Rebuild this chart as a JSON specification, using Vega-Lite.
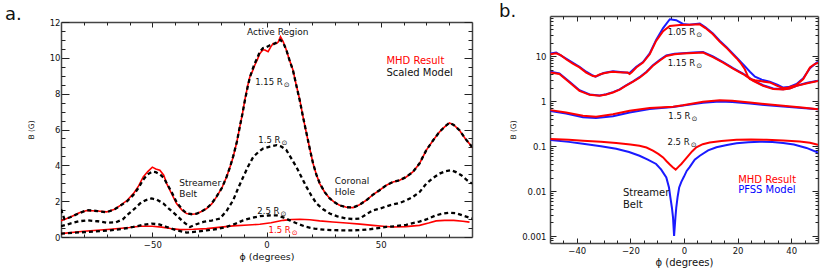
{
"$schema":"https://vega.github.io/schema/vega-lite/v6.json",
"padding":{"left":5,"top":2,"right":0,"bottom":0},
"config":{"font":"DejaVu Sans","view":{"stroke":null},
 "axis":{"grid":false,"domainColor":"#444444","domainWidth":1.5,"tickColor":"#222222","tickWidth":1,"labelFont":"DejaVu Sans","labelFontSize":8.5,"labelColor":"#111111","titleFont":"DejaVu Sans","titleFontWeight":"normal","titleColor":"#111111","labelOverlap":false},
 "text":{"font":"DejaVu Sans"}},
"datasets":{
"a":[
{"s":"MHD","r":"1.15","x":-90,"y":0.9},{"s":"MHD","r":"1.15","x":-86,"y":1.1},{"s":"MHD","r":"1.15","x":-82,"y":1.35},{"s":"MHD","r":"1.15","x":-78.7,"y":1.48},{"s":"MHD","r":"1.15","x":-74,"y":1.45},{"s":"MHD","r":"1.15","x":-70,"y":1.4},{"s":"MHD","r":"1.15","x":-66.5,"y":1.55},{"s":"MHD","r":"1.15","x":-64,"y":1.77},{"s":"MHD","r":"1.15","x":-61,"y":2.05},{"s":"MHD","r":"1.15","x":-58.3,"y":2.42},{"s":"MHD","r":"1.15","x":-56,"y":2.85},{"s":"MHD","r":"1.15","x":-54,"y":3.35},{"s":"MHD","r":"1.15","x":-52,"y":3.65},{"s":"MHD","r":"1.15","x":-50,"y":3.9},{"s":"MHD","r":"1.15","x":-48.5,"y":3.8},{"s":"MHD","r":"1.15","x":-46.7,"y":3.73},{"s":"MHD","r":"1.15","x":-45,"y":3.45},{"s":"MHD","r":"1.15","x":-43.7,"y":2.98},{"s":"MHD","r":"1.15","x":-41.5,"y":2.4},{"s":"MHD","r":"1.15","x":-39.4,"y":1.87},{"s":"MHD","r":"1.15","x":-37,"y":1.5},{"s":"MHD","r":"1.15","x":-35,"y":1.31},{"s":"MHD","r":"1.15","x":-32.5,"y":1.27},{"s":"MHD","r":"1.15","x":-30.6,"y":1.3},{"s":"MHD","r":"1.15","x":-28.5,"y":1.42},{"s":"MHD","r":"1.15","x":-26.2,"y":1.59},{"s":"MHD","r":"1.15","x":-24,"y":1.85},{"s":"MHD","r":"1.15","x":-21.9,"y":2.24},{"s":"MHD","r":"1.15","x":-19.5,"y":2.75},{"s":"MHD","r":"1.15","x":-17.5,"y":3.35},{"s":"MHD","r":"1.15","x":-16,"y":3.9},{"s":"MHD","r":"1.15","x":-14.6,"y":4.47},{"s":"MHD","r":"1.15","x":-13,"y":5.3},{"s":"MHD","r":"1.15","x":-11.7,"y":6.15},{"s":"MHD","r":"1.15","x":-10.5,"y":6.9},{"s":"MHD","r":"1.15","x":-9.5,"y":7.64},{"s":"MHD","r":"1.15","x":-8.3,"y":8.4},{"s":"MHD","r":"1.15","x":-7.3,"y":8.94},{"s":"MHD","r":"1.15","x":-6,"y":9.3},{"s":"MHD","r":"1.15","x":-5.1,"y":9.6},{"s":"MHD","r":"1.15","x":-4,"y":9.9},{"s":"MHD","r":"1.15","x":-2.9,"y":10.25},{"s":"MHD","r":"1.15","x":-1.5,"y":10.45},{"s":"MHD","r":"1.15","x":-0.7,"y":10.44},{"s":"MHD","r":"1.15","x":0.7,"y":10.34},{"s":"MHD","r":"1.15","x":1.8,"y":10.6},{"s":"MHD","r":"1.15","x":2.9,"y":10.8},{"s":"MHD","r":"1.15","x":4.4,"y":10.8},{"s":"MHD","r":"1.15","x":5.2,"y":10.9},{"s":"MHD","r":"1.15","x":6.1,"y":11.18},{"s":"MHD","r":"1.15","x":7.3,"y":10.9},{"s":"MHD","r":"1.15","x":8.7,"y":10.44},{"s":"MHD","r":"1.15","x":10,"y":9.9},{"s":"MHD","r":"1.15","x":11.6,"y":9.32},{"s":"MHD","r":"1.15","x":13,"y":8.5},{"s":"MHD","r":"1.15","x":14.6,"y":7.64},{"s":"MHD","r":"1.15","x":16,"y":6.7},{"s":"MHD","r":"1.15","x":17.5,"y":5.78},{"s":"MHD","r":"1.15","x":19,"y":4.9},{"s":"MHD","r":"1.15","x":20.4,"y":4.1},{"s":"MHD","r":"1.15","x":21.8,"y":3.5},{"s":"MHD","r":"1.15","x":23.3,"y":2.98},{"s":"MHD","r":"1.15","x":25.5,"y":2.5},{"s":"MHD","r":"1.15","x":27.7,"y":2.15},{"s":"MHD","r":"1.15","x":30,"y":1.92},{"s":"MHD","r":"1.15","x":32,"y":1.77},{"s":"MHD","r":"1.15","x":35,"y":1.66},{"s":"MHD","r":"1.15","x":37.9,"y":1.64},{"s":"MHD","r":"1.15","x":40.5,"y":1.78},{"s":"MHD","r":"1.15","x":43.7,"y":2.05},{"s":"MHD","r":"1.15","x":46.5,"y":2.35},{"s":"MHD","r":"1.15","x":49.5,"y":2.61},{"s":"MHD","r":"1.15","x":52.5,"y":2.89},{"s":"MHD","r":"1.15","x":55.4,"y":3.07},{"s":"MHD","r":"1.15","x":58.3,"y":3.17},{"s":"MHD","r":"1.15","x":61.2,"y":3.35},{"s":"MHD","r":"1.15","x":64.1,"y":3.63},{"s":"MHD","r":"1.15","x":67,"y":4.1},{"s":"MHD","r":"1.15","x":70,"y":4.85},{"s":"MHD","r":"1.15","x":73,"y":5.4},{"s":"MHD","r":"1.15","x":75.8,"y":5.87},{"s":"MHD","r":"1.15","x":78,"y":6.15},{"s":"MHD","r":"1.15","x":80.1,"y":6.37},{"s":"MHD","r":"1.15","x":82,"y":6.25},{"s":"MHD","r":"1.15","x":84.5,"y":5.96},{"s":"MHD","r":"1.15","x":87,"y":5.5},{"s":"MHD","r":"1.15","x":90,"y":5.03},
{"s":"Model","r":"1.15","x":-90,"y":1.55},{"s":"Model","r":"1.15","x":-88.5,"y":1.0},{"s":"Model","r":"1.15","x":-86,"y":1.1},{"s":"Model","r":"1.15","x":-82,"y":1.33},{"s":"Model","r":"1.15","x":-78.7,"y":1.5},{"s":"Model","r":"1.15","x":-74,"y":1.45},{"s":"Model","r":"1.15","x":-70,"y":1.38},{"s":"Model","r":"1.15","x":-66.5,"y":1.55},{"s":"Model","r":"1.15","x":-64,"y":1.75},{"s":"Model","r":"1.15","x":-61,"y":2.0},{"s":"Model","r":"1.15","x":-58.3,"y":2.35},{"s":"Model","r":"1.15","x":-56,"y":2.75},{"s":"Model","r":"1.15","x":-54,"y":3.2},{"s":"Model","r":"1.15","x":-52,"y":3.5},{"s":"Model","r":"1.15","x":-50,"y":3.65},{"s":"Model","r":"1.15","x":-48.5,"y":3.62},{"s":"Model","r":"1.15","x":-46.7,"y":3.5},{"s":"Model","r":"1.15","x":-45,"y":3.3},{"s":"Model","r":"1.15","x":-43.7,"y":3.0},{"s":"Model","r":"1.15","x":-41.5,"y":2.5},{"s":"Model","r":"1.15","x":-39.4,"y":1.95},{"s":"Model","r":"1.15","x":-37,"y":1.55},{"s":"Model","r":"1.15","x":-35,"y":1.32},{"s":"Model","r":"1.15","x":-32.5,"y":1.27},{"s":"Model","r":"1.15","x":-30.6,"y":1.3},{"s":"Model","r":"1.15","x":-28.5,"y":1.42},{"s":"Model","r":"1.15","x":-26.2,"y":1.6},{"s":"Model","r":"1.15","x":-24,"y":1.87},{"s":"Model","r":"1.15","x":-21.9,"y":2.25},{"s":"Model","r":"1.15","x":-19.5,"y":2.75},{"s":"Model","r":"1.15","x":-17.5,"y":3.35},{"s":"Model","r":"1.15","x":-16,"y":3.9},{"s":"Model","r":"1.15","x":-14.6,"y":4.5},{"s":"Model","r":"1.15","x":-13,"y":5.3},{"s":"Model","r":"1.15","x":-11.7,"y":6.15},{"s":"Model","r":"1.15","x":-10.5,"y":6.9},{"s":"Model","r":"1.15","x":-9.5,"y":7.6},{"s":"Model","r":"1.15","x":-8.3,"y":8.35},{"s":"Model","r":"1.15","x":-7.3,"y":8.9},{"s":"Model","r":"1.15","x":-6,"y":9.4},{"s":"Model","r":"1.15","x":-5.1,"y":9.7},{"s":"Model","r":"1.15","x":-4,"y":10.0},{"s":"Model","r":"1.15","x":-2.9,"y":10.35},{"s":"Model","r":"1.15","x":-1.5,"y":10.55},{"s":"Model","r":"1.15","x":0,"y":10.6},{"s":"Model","r":"1.15","x":1.5,"y":10.7},{"s":"Model","r":"1.15","x":2.9,"y":10.75},{"s":"Model","r":"1.15","x":4.4,"y":10.85},{"s":"Model","r":"1.15","x":6.1,"y":11.0},{"s":"Model","r":"1.15","x":7.3,"y":10.85},{"s":"Model","r":"1.15","x":8.7,"y":10.44},{"s":"Model","r":"1.15","x":10,"y":9.9},{"s":"Model","r":"1.15","x":11.6,"y":9.3},{"s":"Model","r":"1.15","x":13,"y":8.5},{"s":"Model","r":"1.15","x":14.6,"y":7.6},{"s":"Model","r":"1.15","x":16,"y":6.7},{"s":"Model","r":"1.15","x":17.5,"y":5.8},{"s":"Model","r":"1.15","x":19,"y":4.9},{"s":"Model","r":"1.15","x":20.4,"y":4.1},{"s":"Model","r":"1.15","x":21.8,"y":3.5},{"s":"Model","r":"1.15","x":23.3,"y":3.0},{"s":"Model","r":"1.15","x":25.5,"y":2.5},{"s":"Model","r":"1.15","x":27.7,"y":2.15},{"s":"Model","r":"1.15","x":30,"y":1.92},{"s":"Model","r":"1.15","x":32,"y":1.77},{"s":"Model","r":"1.15","x":35,"y":1.66},{"s":"Model","r":"1.15","x":37.9,"y":1.65},{"s":"Model","r":"1.15","x":40.5,"y":1.78},{"s":"Model","r":"1.15","x":43.7,"y":2.05},{"s":"Model","r":"1.15","x":46.5,"y":2.35},{"s":"Model","r":"1.15","x":49.5,"y":2.61},{"s":"Model","r":"1.15","x":52.5,"y":2.89},{"s":"Model","r":"1.15","x":55.4,"y":3.07},{"s":"Model","r":"1.15","x":58.3,"y":3.17},{"s":"Model","r":"1.15","x":61.2,"y":3.35},{"s":"Model","r":"1.15","x":64.1,"y":3.63},{"s":"Model","r":"1.15","x":67,"y":4.1},{"s":"Model","r":"1.15","x":70,"y":4.85},{"s":"Model","r":"1.15","x":73,"y":5.4},{"s":"Model","r":"1.15","x":75.8,"y":5.87},{"s":"Model","r":"1.15","x":78,"y":6.15},{"s":"Model","r":"1.15","x":80.1,"y":6.37},{"s":"Model","r":"1.15","x":82,"y":6.25},{"s":"Model","r":"1.15","x":84.5,"y":5.96},{"s":"Model","r":"1.15","x":87,"y":5.5},{"s":"Model","r":"1.15","x":90,"y":5.03},
{"s":"Model","r":"1.5","x":-90,"y":0.6},{"s":"Model","r":"1.5","x":-86,"y":0.75},{"s":"Model","r":"1.5","x":-82,"y":0.88},{"s":"Model","r":"1.5","x":-78.7,"y":0.93},{"s":"Model","r":"1.5","x":-74,"y":0.88},{"s":"Model","r":"1.5","x":-70,"y":0.8},{"s":"Model","r":"1.5","x":-66,"y":0.82},{"s":"Model","r":"1.5","x":-63,"y":0.98},{"s":"Model","r":"1.5","x":-61.2,"y":1.21},{"s":"Model","r":"1.5","x":-58,"y":1.55},{"s":"Model","r":"1.5","x":-55.4,"y":1.87},{"s":"Model","r":"1.5","x":-53,"y":2.05},{"s":"Model","r":"1.5","x":-50.3,"y":2.15},{"s":"Model","r":"1.5","x":-48,"y":2.08},{"s":"Model","r":"1.5","x":-45.2,"y":1.87},{"s":"Model","r":"1.5","x":-42.5,"y":1.55},{"s":"Model","r":"1.5","x":-39.4,"y":1.21},{"s":"Model","r":"1.5","x":-36.5,"y":0.85},{"s":"Model","r":"1.5","x":-33.5,"y":0.56},{"s":"Model","r":"1.5","x":-31,"y":0.7},{"s":"Model","r":"1.5","x":-27.7,"y":0.84},{"s":"Model","r":"1.5","x":-24,"y":0.92},{"s":"Model","r":"1.5","x":-20.4,"y":1.03},{"s":"Model","r":"1.5","x":-17.5,"y":1.45},{"s":"Model","r":"1.5","x":-14.6,"y":2.05},{"s":"Model","r":"1.5","x":-12.5,"y":2.7},{"s":"Model","r":"1.5","x":-10.2,"y":3.35},{"s":"Model","r":"1.5","x":-8,"y":3.95},{"s":"Model","r":"1.5","x":-5.8,"y":4.47},{"s":"Model","r":"1.5","x":-3.5,"y":4.75},{"s":"Model","r":"1.5","x":-1.5,"y":4.94},{"s":"Model","r":"1.5","x":1.5,"y":5.05},{"s":"Model","r":"1.5","x":4.4,"y":5.13},{"s":"Model","r":"1.5","x":6.5,"y":5.05},{"s":"Model","r":"1.5","x":8.7,"y":4.85},{"s":"Model","r":"1.5","x":10.8,"y":4.4},{"s":"Model","r":"1.5","x":13.1,"y":3.91},{"s":"Model","r":"1.5","x":15.3,"y":3.35},{"s":"Model","r":"1.5","x":17.5,"y":2.8},{"s":"Model","r":"1.5","x":19.7,"y":2.3},{"s":"Model","r":"1.5","x":21.9,"y":1.87},{"s":"Model","r":"1.5","x":24.8,"y":1.55},{"s":"Model","r":"1.5","x":27.7,"y":1.31},{"s":"Model","r":"1.5","x":31,"y":1.15},{"s":"Model","r":"1.5","x":35,"y":1.03},{"s":"Model","r":"1.5","x":38,"y":1.0},{"s":"Model","r":"1.5","x":40.8,"y":1.03},{"s":"Model","r":"1.5","x":43.5,"y":1.25},{"s":"Model","r":"1.5","x":46.6,"y":1.49},{"s":"Model","r":"1.5","x":50,"y":1.6},{"s":"Model","r":"1.5","x":53.9,"y":1.77},{"s":"Model","r":"1.5","x":58.3,"y":1.9},{"s":"Model","r":"1.5","x":61.2,"y":2.05},{"s":"Model","r":"1.5","x":64.1,"y":2.24},{"s":"Model","r":"1.5","x":67,"y":2.5},{"s":"Model","r":"1.5","x":70,"y":2.98},{"s":"Model","r":"1.5","x":73,"y":3.3},{"s":"Model","r":"1.5","x":75.8,"y":3.54},{"s":"Model","r":"1.5","x":78.5,"y":3.68},{"s":"Model","r":"1.5","x":80.9,"y":3.73},{"s":"Model","r":"1.5","x":83,"y":3.62},{"s":"Model","r":"1.5","x":85.3,"y":3.45},{"s":"Model","r":"1.5","x":87.5,"y":3.2},{"s":"Model","r":"1.5","x":90,"y":2.98},
{"s":"Model","r":"2.5","x":-90,"y":0.19},{"s":"Model","r":"2.5","x":-84,"y":0.24},{"s":"Model","r":"2.5","x":-78.7,"y":0.28},{"s":"Model","r":"2.5","x":-73,"y":0.33},{"s":"Model","r":"2.5","x":-68.4,"y":0.37},{"s":"Model","r":"2.5","x":-63,"y":0.45},{"s":"Model","r":"2.5","x":-58.3,"y":0.56},{"s":"Model","r":"2.5","x":-54,"y":0.68},{"s":"Model","r":"2.5","x":-50.3,"y":0.75},{"s":"Model","r":"2.5","x":-47,"y":0.7},{"s":"Model","r":"2.5","x":-43.7,"y":0.56},{"s":"Model","r":"2.5","x":-39.5,"y":0.38},{"s":"Model","r":"2.5","x":-35,"y":0.25},{"s":"Model","r":"2.5","x":-30.5,"y":0.3},{"s":"Model","r":"2.5","x":-26.2,"y":0.37},{"s":"Model","r":"2.5","x":-21.5,"y":0.45},{"s":"Model","r":"2.5","x":-17.5,"y":0.56},{"s":"Model","r":"2.5","x":-13.5,"y":0.75},{"s":"Model","r":"2.5","x":-10.2,"y":0.93},{"s":"Model","r":"2.5","x":-6.5,"y":1.07},{"s":"Model","r":"2.5","x":-2.9,"y":1.16},{"s":"Model","r":"2.5","x":0.7,"y":1.2},{"s":"Model","r":"2.5","x":4.4,"y":1.21},{"s":"Model","r":"2.5","x":7.3,"y":1.1},{"s":"Model","r":"2.5","x":10.2,"y":0.93},{"s":"Model","r":"2.5","x":13.8,"y":0.73},{"s":"Model","r":"2.5","x":17.5,"y":0.56},{"s":"Model","r":"2.5","x":21,"y":0.47},{"s":"Model","r":"2.5","x":24.8,"y":0.41},{"s":"Model","r":"2.5","x":30,"y":0.38},{"s":"Model","r":"2.5","x":35,"y":0.37},{"s":"Model","r":"2.5","x":40,"y":0.38},{"s":"Model","r":"2.5","x":43.7,"y":0.41},{"s":"Model","r":"2.5","x":48,"y":0.48},{"s":"Model","r":"2.5","x":52.5,"y":0.56},{"s":"Model","r":"2.5","x":56,"y":0.6},{"s":"Model","r":"2.5","x":61.2,"y":0.68},{"s":"Model","r":"2.5","x":64.1,"y":0.78},{"s":"Model","r":"2.5","x":67,"y":0.86},{"s":"Model","r":"2.5","x":70,"y":0.98},{"s":"Model","r":"2.5","x":74,"y":1.2},{"s":"Model","r":"2.5","x":77,"y":1.3},{"s":"Model","r":"2.5","x":80.1,"y":1.36},{"s":"Model","r":"2.5","x":83,"y":1.33},{"s":"Model","r":"2.5","x":86,"y":1.2},{"s":"Model","r":"2.5","x":90,"y":1.03},
{"s":"MHD","r":"1.5","x":-90,"y":0.19},{"s":"MHD","r":"1.5","x":-80,"y":0.32},{"s":"MHD","r":"1.5","x":-68.4,"y":0.43},{"s":"MHD","r":"1.5","x":-60,"y":0.53},{"s":"MHD","r":"1.5","x":-55.4,"y":0.6},{"s":"MHD","r":"1.5","x":-50,"y":0.6},{"s":"MHD","r":"1.5","x":-46,"y":0.55},{"s":"MHD","r":"1.5","x":-42,"y":0.47},{"s":"MHD","r":"1.5","x":-37.9,"y":0.41},{"s":"MHD","r":"1.5","x":-32,"y":0.43},{"s":"MHD","r":"1.5","x":-26.2,"y":0.47},{"s":"MHD","r":"1.5","x":-20,"y":0.55},{"s":"MHD","r":"1.5","x":-14.6,"y":0.62},{"s":"MHD","r":"1.5","x":-8,"y":0.67},{"s":"MHD","r":"1.5","x":-2.9,"y":0.71},{"s":"MHD","r":"1.5","x":2,"y":0.8},{"s":"MHD","r":"1.5","x":7.3,"y":0.93},{"s":"MHD","r":"1.5","x":11,"y":0.98},{"s":"MHD","r":"1.5","x":14.6,"y":0.99},{"s":"MHD","r":"1.5","x":19,"y":0.96},{"s":"MHD","r":"1.5","x":23.3,"y":0.9},{"s":"MHD","r":"1.5","x":29,"y":0.84},{"s":"MHD","r":"1.5","x":35,"y":0.78},{"s":"MHD","r":"1.5","x":41,"y":0.72},{"s":"MHD","r":"1.5","x":46.6,"y":0.65},{"s":"MHD","r":"1.5","x":51,"y":0.6},{"s":"MHD","r":"1.5","x":55.4,"y":0.56},{"s":"MHD","r":"1.5","x":61,"y":0.58},{"s":"MHD","r":"1.5","x":67,"y":0.65},{"s":"MHD","r":"1.5","x":71,"y":0.78},{"s":"MHD","r":"1.5","x":74.3,"y":0.9},{"s":"MHD","r":"1.5","x":78,"y":0.93},{"s":"MHD","r":"1.5","x":82,"y":0.93},{"s":"MHD","r":"1.5","x":86,"y":0.88},{"s":"MHD","r":"1.5","x":88.9,"y":0.83}
],
"b":[
{"s":"PFSS","r":"1.05","x":-49.8,"y":11.5},{"s":"PFSS","r":"1.05","x":-47.7,"y":12},{"s":"PFSS","r":"1.05","x":-44,"y":8.8},{"s":"PFSS","r":"1.05","x":-39,"y":5.8},{"s":"PFSS","r":"1.05","x":-36.5,"y":4.5},{"s":"PFSS","r":"1.05","x":-34,"y":3.7},{"s":"PFSS","r":"1.05","x":-33,"y":3.5},{"s":"PFSS","r":"1.05","x":-30,"y":4.2},{"s":"PFSS","r":"1.05","x":-26.5,"y":4.6},{"s":"PFSS","r":"1.05","x":-22.8,"y":4.4},{"s":"PFSS","r":"1.05","x":-20.3,"y":4.2},{"s":"PFSS","r":"1.05","x":-17.8,"y":5.8},{"s":"PFSS","r":"1.05","x":-15.3,"y":7.4},{"s":"PFSS","r":"1.05","x":-12.8,"y":11.5},{"s":"PFSS","r":"1.05","x":-10.4,"y":23},{"s":"PFSS","r":"1.05","x":-7.8,"y":42},{"s":"PFSS","r":"1.05","x":-5.3,"y":66},{"s":"PFSS","r":"1.05","x":-2.9,"y":63},{"s":"PFSS","r":"1.05","x":-0.4,"y":52},{"s":"PFSS","r":"1.05","x":2,"y":50},{"s":"PFSS","r":"1.05","x":5.9,"y":53},{"s":"PFSS","r":"1.05","x":8,"y":44},{"s":"PFSS","r":"1.05","x":10.8,"y":32},{"s":"PFSS","r":"1.05","x":13.3,"y":22},{"s":"PFSS","r":"1.05","x":15.8,"y":16},{"s":"PFSS","r":"1.05","x":19.6,"y":9.4},{"s":"PFSS","r":"1.05","x":22.7,"y":6.0},{"s":"PFSS","r":"1.05","x":24.6,"y":4.5},{"s":"PFSS","r":"1.05","x":26.5,"y":3.5},{"s":"PFSS","r":"1.05","x":29,"y":3.0},{"s":"PFSS","r":"1.05","x":32,"y":2.7},{"s":"PFSS","r":"1.05","x":35,"y":2.3},{"s":"PFSS","r":"1.05","x":37,"y":2.0},{"s":"PFSS","r":"1.05","x":39,"y":2.05},{"s":"PFSS","r":"1.05","x":42,"y":2.4},{"s":"PFSS","r":"1.05","x":44.5,"y":3.2},{"s":"PFSS","r":"1.05","x":47,"y":5.4},{"s":"PFSS","r":"1.05","x":50,"y":7.6},
{"s":"PFSS","r":"1.15","x":-49.8,"y":4.5},{"s":"PFSS","r":"1.15","x":-46.5,"y":4.1},{"s":"PFSS","r":"1.15","x":-42.7,"y":2.7},{"s":"PFSS","r":"1.15","x":-39,"y":1.75},{"s":"PFSS","r":"1.15","x":-35.2,"y":1.4},{"s":"PFSS","r":"1.15","x":-31.5,"y":1.33},{"s":"PFSS","r":"1.15","x":-29,"y":1.42},{"s":"PFSS","r":"1.15","x":-26.5,"y":1.58},{"s":"PFSS","r":"1.15","x":-24,"y":1.83},{"s":"PFSS","r":"1.15","x":-21.6,"y":2.25},{"s":"PFSS","r":"1.15","x":-19,"y":2.75},{"s":"PFSS","r":"1.15","x":-16.6,"y":3.4},{"s":"PFSS","r":"1.15","x":-14,"y":4.5},{"s":"PFSS","r":"1.15","x":-11.6,"y":6.3},{"s":"PFSS","r":"1.15","x":-9,"y":8.3},{"s":"PFSS","r":"1.15","x":-6.6,"y":10.4},{"s":"PFSS","r":"1.15","x":-3.5,"y":11.3},{"s":"PFSS","r":"1.15","x":-0.4,"y":11.6},{"s":"PFSS","r":"1.15","x":3.5,"y":12.0},{"s":"PFSS","r":"1.15","x":7.1,"y":12.4},{"s":"PFSS","r":"1.15","x":10.8,"y":9.8},{"s":"PFSS","r":"1.15","x":14.6,"y":7.4},{"s":"PFSS","r":"1.15","x":18.3,"y":5.4},{"s":"PFSS","r":"1.15","x":22,"y":4.1},{"s":"PFSS","r":"1.15","x":25.8,"y":2.9},{"s":"PFSS","r":"1.15","x":29.5,"y":2.25},{"s":"PFSS","r":"1.15","x":33.3,"y":1.9},{"s":"PFSS","r":"1.15","x":37,"y":1.83},{"s":"PFSS","r":"1.15","x":39.5,"y":1.92},{"s":"PFSS","r":"1.15","x":42,"y":2.2},{"s":"PFSS","r":"1.15","x":46,"y":2.55},{"s":"PFSS","r":"1.15","x":50,"y":2.85},
{"s":"PFSS","r":"1.5","x":-49.8,"y":0.6},{"s":"PFSS","r":"1.5","x":-44,"y":0.53},{"s":"PFSS","r":"1.5","x":-37.7,"y":0.44},{"s":"PFSS","r":"1.5","x":-32.8,"y":0.42},{"s":"PFSS","r":"1.5","x":-26.5,"y":0.46},{"s":"PFSS","r":"1.5","x":-20.3,"y":0.56},{"s":"PFSS","r":"1.5","x":-12.8,"y":0.67},{"s":"PFSS","r":"1.5","x":-4.1,"y":0.74},{"s":"PFSS","r":"1.5","x":-0.4,"y":0.8},{"s":"PFSS","r":"1.5","x":7.1,"y":0.92},{"s":"PFSS","r":"1.5","x":13.3,"y":0.98},{"s":"PFSS","r":"1.5","x":18,"y":0.96},{"s":"PFSS","r":"1.5","x":24.6,"y":0.88},{"s":"PFSS","r":"1.5","x":30,"y":0.82},{"s":"PFSS","r":"1.5","x":37,"y":0.76},{"s":"PFSS","r":"1.5","x":44,"y":0.7},{"s":"PFSS","r":"1.5","x":50,"y":0.66},
{"s":"PFSS","r":"2.5","x":-49.8,"y":0.136},{"s":"PFSS","r":"2.5","x":-43,"y":0.124},{"s":"PFSS","r":"2.5","x":-37.7,"y":0.112},{"s":"PFSS","r":"2.5","x":-31,"y":0.099},{"s":"PFSS","r":"2.5","x":-25.3,"y":0.087},{"s":"PFSS","r":"2.5","x":-20.5,"y":0.074},{"s":"PFSS","r":"2.5","x":-16.6,"y":0.061},{"s":"PFSS","r":"2.5","x":-13.5,"y":0.05},{"s":"PFSS","r":"2.5","x":-10.4,"y":0.04},{"s":"PFSS","r":"2.5","x":-8.5,"y":0.03},{"s":"PFSS","r":"2.5","x":-6.6,"y":0.02},{"s":"PFSS","r":"2.5","x":-5.6,"y":0.012},{"s":"PFSS","r":"2.5","x":-5.1,"y":0.0073},{"s":"PFSS","r":"2.5","x":-4.5,"y":0.0042},{"s":"PFSS","r":"2.5","x":-4.1,"y":0.0026},{"s":"PFSS","r":"2.5","x":-3.7,"y":0.001},{"s":"PFSS","r":"2.5","x":-3.2,"y":0.0026},{"s":"PFSS","r":"2.5","x":-2.9,"y":0.0042},{"s":"PFSS","r":"2.5","x":-2.4,"y":0.0073},{"s":"PFSS","r":"2.5","x":-1.8,"y":0.012},{"s":"PFSS","r":"2.5","x":-1,"y":0.016},{"s":"PFSS","r":"2.5","x":0,"y":0.021},{"s":"PFSS","r":"2.5","x":1,"y":0.028},{"s":"PFSS","r":"2.5","x":2.1,"y":0.034},{"s":"PFSS","r":"2.5","x":4,"y":0.05},{"s":"PFSS","r":"2.5","x":5.9,"y":0.061},{"s":"PFSS","r":"2.5","x":9,"y":0.08},{"s":"PFSS","r":"2.5","x":12.1,"y":0.094},{"s":"PFSS","r":"2.5","x":16,"y":0.106},{"s":"PFSS","r":"2.5","x":19.6,"y":0.115},{"s":"PFSS","r":"2.5","x":24,"y":0.121},{"s":"PFSS","r":"2.5","x":28.3,"y":0.125},{"s":"PFSS","r":"2.5","x":33,"y":0.123},{"s":"PFSS","r":"2.5","x":37,"y":0.117},{"s":"PFSS","r":"2.5","x":41,"y":0.108},{"s":"PFSS","r":"2.5","x":45.7,"y":0.091},{"s":"PFSS","r":"2.5","x":50,"y":0.072},
{"s":"MHD","r":"1.05","x":-49.8,"y":11},{"s":"MHD","r":"1.05","x":-47.7,"y":11.6},{"s":"MHD","r":"1.05","x":-46,"y":10.5},{"s":"MHD","r":"1.05","x":-44,"y":8.5},{"s":"MHD","r":"1.05","x":-41.5,"y":6.8},{"s":"MHD","r":"1.05","x":-39,"y":5.6},{"s":"MHD","r":"1.05","x":-36.5,"y":4.3},{"s":"MHD","r":"1.05","x":-34,"y":3.6},{"s":"MHD","r":"1.05","x":-33,"y":3.55},{"s":"MHD","r":"1.05","x":-31.5,"y":3.9},{"s":"MHD","r":"1.05","x":-30.3,"y":4.1},{"s":"MHD","r":"1.05","x":-28,"y":4.4},{"s":"MHD","r":"1.05","x":-26.5,"y":4.5},{"s":"MHD","r":"1.05","x":-24.5,"y":4.4},{"s":"MHD","r":"1.05","x":-22.8,"y":4.3},{"s":"MHD","r":"1.05","x":-21,"y":4.3},{"s":"MHD","r":"1.05","x":-20.3,"y":4.0},{"s":"MHD","r":"1.05","x":-19.5,"y":4.4},{"s":"MHD","r":"1.05","x":-17.8,"y":5.6},{"s":"MHD","r":"1.05","x":-15.3,"y":7.2},{"s":"MHD","r":"1.05","x":-12.8,"y":11},{"s":"MHD","r":"1.05","x":-10.4,"y":21.8},{"s":"MHD","r":"1.05","x":-7.8,"y":36},{"s":"MHD","r":"1.05","x":-5.3,"y":47},{"s":"MHD","r":"1.05","x":-1.6,"y":49},{"s":"MHD","r":"1.05","x":2,"y":50},{"s":"MHD","r":"1.05","x":5.9,"y":51},{"s":"MHD","r":"1.05","x":8,"y":42},{"s":"MHD","r":"1.05","x":10.8,"y":30.7},{"s":"MHD","r":"1.05","x":13.3,"y":21},{"s":"MHD","r":"1.05","x":15.8,"y":15.4},{"s":"MHD","r":"1.05","x":17.8,"y":11.5},{"s":"MHD","r":"1.05","x":19.6,"y":9.0},{"s":"MHD","r":"1.05","x":21.3,"y":6.8},{"s":"MHD","r":"1.05","x":22.7,"y":5.1},{"s":"MHD","r":"1.05","x":23.8,"y":3.6},{"s":"MHD","r":"1.05","x":24.6,"y":3.1},{"s":"MHD","r":"1.05","x":26.5,"y":2.9},{"s":"MHD","r":"1.05","x":29,"y":2.75},{"s":"MHD","r":"1.05","x":32,"y":2.6},{"s":"MHD","r":"1.05","x":35,"y":2.15},{"s":"MHD","r":"1.05","x":37,"y":1.94},{"s":"MHD","r":"1.05","x":39,"y":2.0},{"s":"MHD","r":"1.05","x":42,"y":2.3},{"s":"MHD","r":"1.05","x":44.5,"y":3.1},{"s":"MHD","r":"1.05","x":47,"y":5.6},{"s":"MHD","r":"1.05","x":48.5,"y":6.5},{"s":"MHD","r":"1.05","x":50,"y":7.2},
{"s":"MHD","r":"1.15","x":-49.8,"y":4.3},{"s":"MHD","r":"1.15","x":-46.5,"y":4.0},{"s":"MHD","r":"1.15","x":-42.7,"y":2.6},{"s":"MHD","r":"1.15","x":-39,"y":1.69},{"s":"MHD","r":"1.15","x":-35.2,"y":1.38},{"s":"MHD","r":"1.15","x":-31.5,"y":1.31},{"s":"MHD","r":"1.15","x":-29,"y":1.4},{"s":"MHD","r":"1.15","x":-26.5,"y":1.55},{"s":"MHD","r":"1.15","x":-24,"y":1.8},{"s":"MHD","r":"1.15","x":-21.6,"y":2.2},{"s":"MHD","r":"1.15","x":-19,"y":2.7},{"s":"MHD","r":"1.15","x":-16.6,"y":3.3},{"s":"MHD","r":"1.15","x":-14,"y":4.4},{"s":"MHD","r":"1.15","x":-11.6,"y":6.1},{"s":"MHD","r":"1.15","x":-9,"y":8.0},{"s":"MHD","r":"1.15","x":-6.6,"y":10.1},{"s":"MHD","r":"1.15","x":-3.5,"y":11},{"s":"MHD","r":"1.15","x":-0.4,"y":11.4},{"s":"MHD","r":"1.15","x":3.5,"y":11.7},{"s":"MHD","r":"1.15","x":7.1,"y":12},{"s":"MHD","r":"1.15","x":10.8,"y":9.5},{"s":"MHD","r":"1.15","x":14.6,"y":7.2},{"s":"MHD","r":"1.15","x":18.3,"y":5.3},{"s":"MHD","r":"1.15","x":22,"y":4.0},{"s":"MHD","r":"1.15","x":25.8,"y":2.8},{"s":"MHD","r":"1.15","x":29.5,"y":2.2},{"s":"MHD","r":"1.15","x":33.3,"y":1.85},{"s":"MHD","r":"1.15","x":37,"y":1.81},{"s":"MHD","r":"1.15","x":39.5,"y":1.9},{"s":"MHD","r":"1.15","x":42,"y":2.18},{"s":"MHD","r":"1.15","x":46,"y":2.5},{"s":"MHD","r":"1.15","x":50,"y":2.8},
{"s":"MHD","r":"1.5","x":-49.8,"y":0.63},{"s":"MHD","r":"1.5","x":-44,"y":0.56},{"s":"MHD","r":"1.5","x":-37.7,"y":0.47},{"s":"MHD","r":"1.5","x":-32.8,"y":0.45},{"s":"MHD","r":"1.5","x":-26.5,"y":0.51},{"s":"MHD","r":"1.5","x":-20.3,"y":0.61},{"s":"MHD","r":"1.5","x":-12.8,"y":0.7},{"s":"MHD","r":"1.5","x":-4.1,"y":0.75},{"s":"MHD","r":"1.5","x":-0.4,"y":0.81},{"s":"MHD","r":"1.5","x":7.1,"y":0.97},{"s":"MHD","r":"1.5","x":13.3,"y":1.05},{"s":"MHD","r":"1.5","x":18,"y":1.02},{"s":"MHD","r":"1.5","x":24.6,"y":0.93},{"s":"MHD","r":"1.5","x":30,"y":0.86},{"s":"MHD","r":"1.5","x":37,"y":0.79},{"s":"MHD","r":"1.5","x":44,"y":0.72},{"s":"MHD","r":"1.5","x":50,"y":0.66},
{"s":"MHD","r":"2.5","x":-49.8,"y":0.144},{"s":"MHD","r":"2.5","x":-43,"y":0.138},{"s":"MHD","r":"2.5","x":-37.7,"y":0.132},{"s":"MHD","r":"2.5","x":-31,"y":0.125},{"s":"MHD","r":"2.5","x":-25.3,"y":0.117},{"s":"MHD","r":"2.5","x":-20,"y":0.109},{"s":"MHD","r":"2.5","x":-16.6,"y":0.102},{"s":"MHD","r":"2.5","x":-14,"y":0.093},{"s":"MHD","r":"2.5","x":-11.6,"y":0.079},{"s":"MHD","r":"2.5","x":-9.6,"y":0.067},{"s":"MHD","r":"2.5","x":-7.8,"y":0.056},{"s":"MHD","r":"2.5","x":-6.5,"y":0.046},{"s":"MHD","r":"2.5","x":-5.3,"y":0.039},{"s":"MHD","r":"2.5","x":-4.2,"y":0.034},{"s":"MHD","r":"2.5","x":-3.1,"y":0.03},{"s":"MHD","r":"2.5","x":-2,"y":0.035},{"s":"MHD","r":"2.5","x":-1,"y":0.04},{"s":"MHD","r":"2.5","x":-0.4,"y":0.044},{"s":"MHD","r":"2.5","x":1.5,"y":0.06},{"s":"MHD","r":"2.5","x":3,"y":0.076},{"s":"MHD","r":"2.5","x":4.6,"y":0.094},{"s":"MHD","r":"2.5","x":7,"y":0.11},{"s":"MHD","r":"2.5","x":9.6,"y":0.12},{"s":"MHD","r":"2.5","x":14,"y":0.13},{"s":"MHD","r":"2.5","x":19.6,"y":0.138},{"s":"MHD","r":"2.5","x":25,"y":0.14},{"s":"MHD","r":"2.5","x":30.8,"y":0.138},{"s":"MHD","r":"2.5","x":37,"y":0.133},{"s":"MHD","r":"2.5","x":43.2,"y":0.127},{"s":"MHD","r":"2.5","x":47,"y":0.118},{"s":"MHD","r":"2.5","x":50,"y":0.107}
],
"ra":[{"x":7.1,"y":8.66,"t":"1.15 R","k":"Model"},{"x":6.1,"y":5.4,"t":"1.5 R","k":"Model"},{"x":5.7,"y":1.44,"t":"2.5 R","k":"Model"},{"x":10.6,"y":0.37,"t":"1.5 R","k":"MHD"}],
"na":[{"x":-38.2,"y":3.03,"t":"Streamer"},{"x":-38.2,"y":2.42,"t":"Belt"},{"x":29.9,"y":3.12,"t":"Coronal"},{"x":29.9,"y":2.52,"t":"Hole"}],
"ca":[{"x":4.9,"y":11.46,"t":"Active Region"}],
"ga":[{"x":52.5,"y":9.8,"t":"MHD Result","k":"MHD"},{"x":52.5,"y":9.18,"t":"Scaled Model","k":"Model"}],
"rb":[{"x":4.2,"y":34.8,"t":"1.05 R"},{"x":4.2,"y":6.9,"t":"1.15 R"},{"x":2.4,"y":0.46,"t":"1.5 R"},{"x":2.1,"y":0.126,"t":"2.5 R"}],
"nb":[{"x":-22.8,"y":0.009,"t":"Streamer"},{"x":-22.8,"y":0.005,"t":"Belt"}],
"gb":[{"x":20.2,"y":0.018,"t":"MHD Result","k":"MHD"},{"x":20.2,"y":0.0103,"t":"PFSS Model","k":"PFSS"}]
},
"spacing":24,
"hconcat":[
{"vconcat":[
 {"width":411,"height":6,"data":{"values":[{}]},"mark":{"type":"point","opacity":0},"encoding":{}},
 {"width":411,"height":215,
  "title":{"text":"a.","anchor":"start","frame":"group","dx":-56,"offset":-20,"baseline":"alphabetic","fontSize":18,"fontWeight":"normal","font":"DejaVu Sans","color":"#111111"},
  "data":{"name":"a"},
  "resolve":{"axis":{"x":"independent","y":"independent"}},
  "layer":[
   {"mark":{"type":"point","opacity":0},"encoding":{
     "x":{"field":"x","type":"quantitative","scale":{"domain":[-90,90],"nice":false,"zero":false},"axis":{"orient":"bottom","values":[-50,0,50],"tickSize":-5,"labelPadding":8,"title":"ϕ (degrees)","titleFontSize":9.5,"titlePadding":3}},
     "y":{"field":"y","type":"quantitative","scale":{"domain":[0,12],"nice":false},"axis":{"orient":"left","values":[0,2,4,6,8,10,12],"tickSize":-8,"labelPadding":9,"title":"B (G)","titleFontSize":7.5,"titlePadding":14}}}},
   {"mark":{"type":"point","opacity":0},"encoding":{
     "x":{"field":"x","type":"quantitative","scale":{"domain":[-90,90],"nice":false,"zero":false},"axis":{"orient":"bottom","values":[-80,-70,-60,-40,-30,-20,-10,10,20,30,40,60,70,80],"tickSize":-3,"labels":false,"domain":false,"title":null}},
     "y":{"field":"y","type":"quantitative","scale":{"domain":[0,12],"nice":false},"axis":{"orient":"left","values":[0.5,1,1.5,2.5,3,3.5,4.5,5,5.5,6.5,7,7.5,8.5,9,9.5,10.5,11,11.5],"tickSize":-4,"labels":false,"domain":false,"title":null}}}},
   {"mark":{"type":"point","opacity":0},"encoding":{
     "x":{"field":"x","type":"quantitative","scale":{"domain":[-90,90],"nice":false,"zero":false},"axis":{"orient":"top","values":[-50,0,50],"tickSize":-5,"labels":false,"title":null}},
     "y":{"field":"y","type":"quantitative","scale":{"domain":[0,12],"nice":false},"axis":{"orient":"right","values":[0,2,4,6,8,10,12],"tickSize":-8,"labels":false,"title":null}}}},
   {"mark":{"type":"point","opacity":0},"encoding":{
     "x":{"field":"x","type":"quantitative","scale":{"domain":[-90,90],"nice":false,"zero":false},"axis":{"orient":"top","values":[-80,-70,-60,-40,-30,-20,-10,10,20,30,40,60,70,80],"tickSize":-3,"labels":false,"domain":false,"title":null}},
     "y":{"field":"y","type":"quantitative","scale":{"domain":[0,12],"nice":false},"axis":{"orient":"right","values":[0.5,1,1.5,2.5,3,3.5,4.5,5,5.5,6.5,7,7.5,8.5,9,9.5,10.5,11,11.5],"tickSize":-4,"labels":false,"domain":false,"title":null}}}},
   {"transform":[{"filter":"datum.s === 'MHD'"}],"mark":{"type":"line","color":"#ff0000","strokeWidth":1.6,"clip":true},"encoding":{
     "x":{"field":"x","type":"quantitative","axis":null},"y":{"field":"y","type":"quantitative","axis":null},"detail":{"field":"r"}}},
   {"transform":[{"filter":"datum.s === 'Model'"}],"mark":{"type":"line","color":"#000000","strokeWidth":2.3,"strokeDash":[4,3],"clip":true},"encoding":{
     "x":{"field":"x","type":"quantitative","axis":null},"y":{"field":"y","type":"quantitative","axis":null},"detail":{"field":"r"}}},
   {"data":{"name":"ra"},"mark":{"type":"text","align":"right","baseline":"middle","fontSize":8.5},"encoding":{
     "x":{"field":"x","type":"quantitative","axis":null},"y":{"field":"y","type":"quantitative","axis":null},"text":{"field":"t"},
     "color":{"field":"k","type":"nominal","scale":{"domain":["MHD","Model","PFSS"],"range":["#ff0000","#111111","#0000ff"]},"legend":null}}},
   {"data":{"name":"ra"},"mark":{"type":"text","align":"left","baseline":"middle","fontSize":7,"dx":1,"dy":3},"encoding":{
     "x":{"field":"x","type":"quantitative","axis":null},"y":{"field":"y","type":"quantitative","axis":null},"text":{"value":"⊙"},
     "color":{"field":"k","type":"nominal","scale":{"domain":["MHD","Model","PFSS"],"range":["#ff0000","#111111","#0000ff"]},"legend":null}}},
   {"data":{"name":"na"},"mark":{"type":"text","align":"left","baseline":"middle","fontSize":9,"color":"#111111"},"encoding":{
     "x":{"field":"x","type":"quantitative","axis":null},"y":{"field":"y","type":"quantitative","axis":null},"text":{"field":"t"}}},
   {"data":{"name":"ca"},"mark":{"type":"text","align":"center","baseline":"middle","fontSize":9,"color":"#111111"},"encoding":{
     "x":{"field":"x","type":"quantitative","axis":null},"y":{"field":"y","type":"quantitative","axis":null},"text":{"field":"t"}}},
   {"data":{"name":"ga"},"mark":{"type":"text","align":"left","baseline":"middle","fontSize":10},"encoding":{
     "x":{"field":"x","type":"quantitative","axis":null},"y":{"field":"y","type":"quantitative","axis":null},"text":{"field":"t"},
     "color":{"field":"k","type":"nominal","scale":{"domain":["MHD","Model","PFSS"],"range":["#ff0000","#111111","#0000ff"]},"legend":null}}}
  ]}
 ],"spacing":0,"bounds":"flush"},
{"width":268,"height":227,
 "title":{"text":"b.","anchor":"start","frame":"group","dx":-51,"offset":-19,"baseline":"alphabetic","fontSize":18,"fontWeight":"normal","font":"DejaVu Sans","color":"#111111"},
 "data":{"name":"b"},
 "resolve":{"axis":{"x":"independent","y":"independent"}},
 "layer":[
   {"mark":{"type":"point","opacity":0},"encoding":{
     "x":{"field":"x","type":"quantitative","scale":{"domain":[-50,50],"nice":false,"zero":false},"axis":{"orient":"bottom","values":[-40,-20,0,20,40],"tickSize":-5,"labelPadding":8,"title":"ϕ (degrees)","titleFontSize":10,"titlePadding":3}},
     "y":{"field":"y","type":"quantitative","scale":{"type":"log","domain":[0.0007,78],"nice":false},"axis":{"orient":"left","values":[0.001,0.01,0.1,1,10],"format":"~g","tickSize":-6,"labelPadding":10,"title":"B (G)","titleFontSize":7.5,"titlePadding":4}}}},
   {"mark":{"type":"point","opacity":0},"encoding":{
     "x":{"field":"x","type":"quantitative","scale":{"domain":[-50,50],"nice":false,"zero":false},"axis":{"orient":"bottom","values":[-45,-35,-30,-25,-15,-10,-5,5,10,15,25,30,35,45],"tickSize":-3,"labels":false,"domain":false,"title":null}},
     "y":{"field":"y","type":"quantitative","scale":{"type":"log","domain":[0.0007,78],"nice":false},"axis":{"orient":"left","values":[0.0008,0.0009,0.002,0.003,0.004,0.005,0.006,0.007,0.008,0.009,0.02,0.03,0.04,0.05,0.06,0.07,0.08,0.09,0.2,0.3,0.4,0.5,0.6,0.7,0.8,0.9,2,3,4,5,6,7,8,9,20,30,40,50,60,70],"tickSize":-3,"labels":false,"domain":false,"title":null}}}},
   {"mark":{"type":"point","opacity":0},"encoding":{
     "x":{"field":"x","type":"quantitative","scale":{"domain":[-50,50],"nice":false,"zero":false},"axis":{"orient":"top","values":[-40,-20,0,20,40],"tickSize":-5,"labels":false,"title":null}},
     "y":{"field":"y","type":"quantitative","scale":{"type":"log","domain":[0.0007,78],"nice":false},"axis":{"orient":"right","values":[0.001,0.01,0.1,1,10],"tickSize":-6,"labels":false,"title":null}}}},
   {"mark":{"type":"point","opacity":0},"encoding":{
     "x":{"field":"x","type":"quantitative","scale":{"domain":[-50,50],"nice":false,"zero":false},"axis":{"orient":"top","values":[-45,-35,-30,-25,-15,-10,-5,5,10,15,25,30,35,45],"tickSize":-3,"labels":false,"domain":false,"title":null}},
     "y":{"field":"y","type":"quantitative","scale":{"type":"log","domain":[0.0007,78],"nice":false},"axis":{"orient":"right","values":[0.0008,0.0009,0.002,0.003,0.004,0.005,0.006,0.007,0.008,0.009,0.02,0.03,0.04,0.05,0.06,0.07,0.08,0.09,0.2,0.3,0.4,0.5,0.6,0.7,0.8,0.9,2,3,4,5,6,7,8,9,20,30,40,50,60,70],"tickSize":-3,"labels":false,"domain":false,"title":null}}}},
   {"transform":[{"filter":"datum.s === 'PFSS'"}],"mark":{"type":"line","color":"#1a1aff","strokeWidth":2,"clip":true},"encoding":{
     "x":{"field":"x","type":"quantitative","axis":null},"y":{"field":"y","type":"quantitative","axis":null},"detail":{"field":"r"}}},
   {"transform":[{"filter":"datum.s === 'MHD'"}],"mark":{"type":"line","color":"#ff0000","strokeWidth":2,"clip":true},"encoding":{
     "x":{"field":"x","type":"quantitative","axis":null},"y":{"field":"y","type":"quantitative","axis":null},"detail":{"field":"r"}}},
   {"data":{"name":"rb"},"mark":{"type":"text","align":"right","baseline":"middle","fontSize":8.5,"color":"#111111"},"encoding":{
     "x":{"field":"x","type":"quantitative","axis":null},"y":{"field":"y","type":"quantitative","axis":null},"text":{"field":"t"}}},
   {"data":{"name":"rb"},"mark":{"type":"text","align":"left","baseline":"middle","fontSize":7,"dx":1,"dy":3,"color":"#111111"},"encoding":{
     "x":{"field":"x","type":"quantitative","axis":null},"y":{"field":"y","type":"quantitative","axis":null},"text":{"value":"⊙"}}},
   {"data":{"name":"nb"},"mark":{"type":"text","align":"left","baseline":"middle","fontSize":10,"color":"#111111"},"encoding":{
     "x":{"field":"x","type":"quantitative","axis":null},"y":{"field":"y","type":"quantitative","axis":null},"text":{"field":"t"}}},
   {"data":{"name":"gb"},"mark":{"type":"text","align":"left","baseline":"middle","fontSize":10},"encoding":{
     "x":{"field":"x","type":"quantitative","axis":null},"y":{"field":"y","type":"quantitative","axis":null},"text":{"field":"t"},
     "color":{"field":"k","type":"nominal","scale":{"domain":["MHD","Model","PFSS"],"range":["#ff0000","#111111","#0000ff"]},"legend":null}}}
 ]}
]
}
